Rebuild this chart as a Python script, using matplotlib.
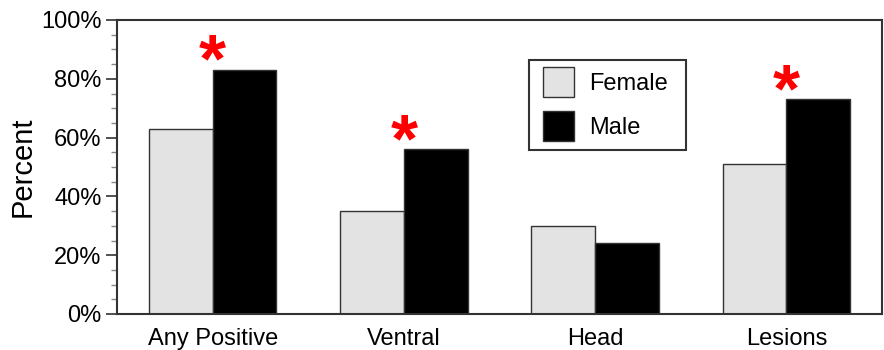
import matplotlib
matplotlib.use("Agg")
import matplotlib.pyplot as plt
from matplotlib.patches import Rectangle
import numpy as np
from matplotlib.ticker import MultipleLocator, FuncFormatter

categories = ["Any Positive", "Ventral", "Head", "Lesions"]
female = [63, 35, 30, 51]
male = [83, 56, 24, 73]
significant = [True, True, False, True]

plt.rcParams['font.family'] = ['Liberation Sans', 'DejaVu Sans']

W, H = 884, 350
fig = plt.figure(figsize=(W/100, H/100), dpi=100)
ax_l, ax_r, ax_t, ax_b = 117, 882, 20, 314
ax = fig.add_axes([ax_l/W, 1-ax_b/H, (ax_r-ax_l)/W, (ax_b-ax_t)/H])

def axc(px, py):
    return ((px-ax_l)/(ax_r-ax_l), (ax_b-py)/(ax_b-ax_t))

x = np.arange(len(categories))
w = 1/3
ax.bar(x - w/2, female, w, color='#e3e3e3', edgecolor='#333333', linewidth=1.0, label='Female')
ax.bar(x + w/2, male, w, color='black', edgecolor='#333333', linewidth=1.0, label='Male')

for i, s in enumerate(significant):
    if s:
        ax.annotate('*', xy=(x[i], male[i]), xytext=(0, -8.5), textcoords='offset points',
                    color='#ff0000', fontsize=50, fontweight='bold',
                    ha='center', va='baseline')

ax.set_xlim(-0.5, 3.5)
ax.set_ylim(0, 100)
ax.set_xticks(x)
ax.set_xticklabels(categories, fontsize=17)
ax.tick_params(axis='x', length=0, pad=10)
ax.yaxis.set_major_locator(MultipleLocator(20))
ax.yaxis.set_minor_locator(MultipleLocator(5))
ax.yaxis.set_major_formatter(FuncFormatter(lambda v, p: f"{int(v)}%"))
ax.tick_params(axis='y', which='major', length=8, width=1.2, labelsize=17, color='#333333', pad=3)
ax.tick_params(axis='y', which='minor', length=4, width=1.0, color='#888888')
ax.set_ylabel('Percent', fontsize=21, labelpad=3)
for sp in ax.spines.values():
    sp.set_color('#333333')
    sp.set_linewidth(1.5)

# legend box frame
bx0, by0 = axc(529, 150)
bx1, by1 = axc(686, 60)
ax.add_patch(Rectangle((bx0, by0), bx1-bx0, by1-by0, transform=ax.transAxes,
                       facecolor='white', edgecolor='#333333', linewidth=1.5, zorder=4))

leg = ax.legend(loc='upper left', bbox_to_anchor=axc(543, 67),
                fontsize=17, frameon=False,
                handlelength=1.33, handleheight=1.55, borderpad=0, labelspacing=0.62,
                handletextpad=0.64, borderaxespad=0)
leg.set_zorder(5)

fig.savefig('out.png', dpi=100, facecolor='white')
